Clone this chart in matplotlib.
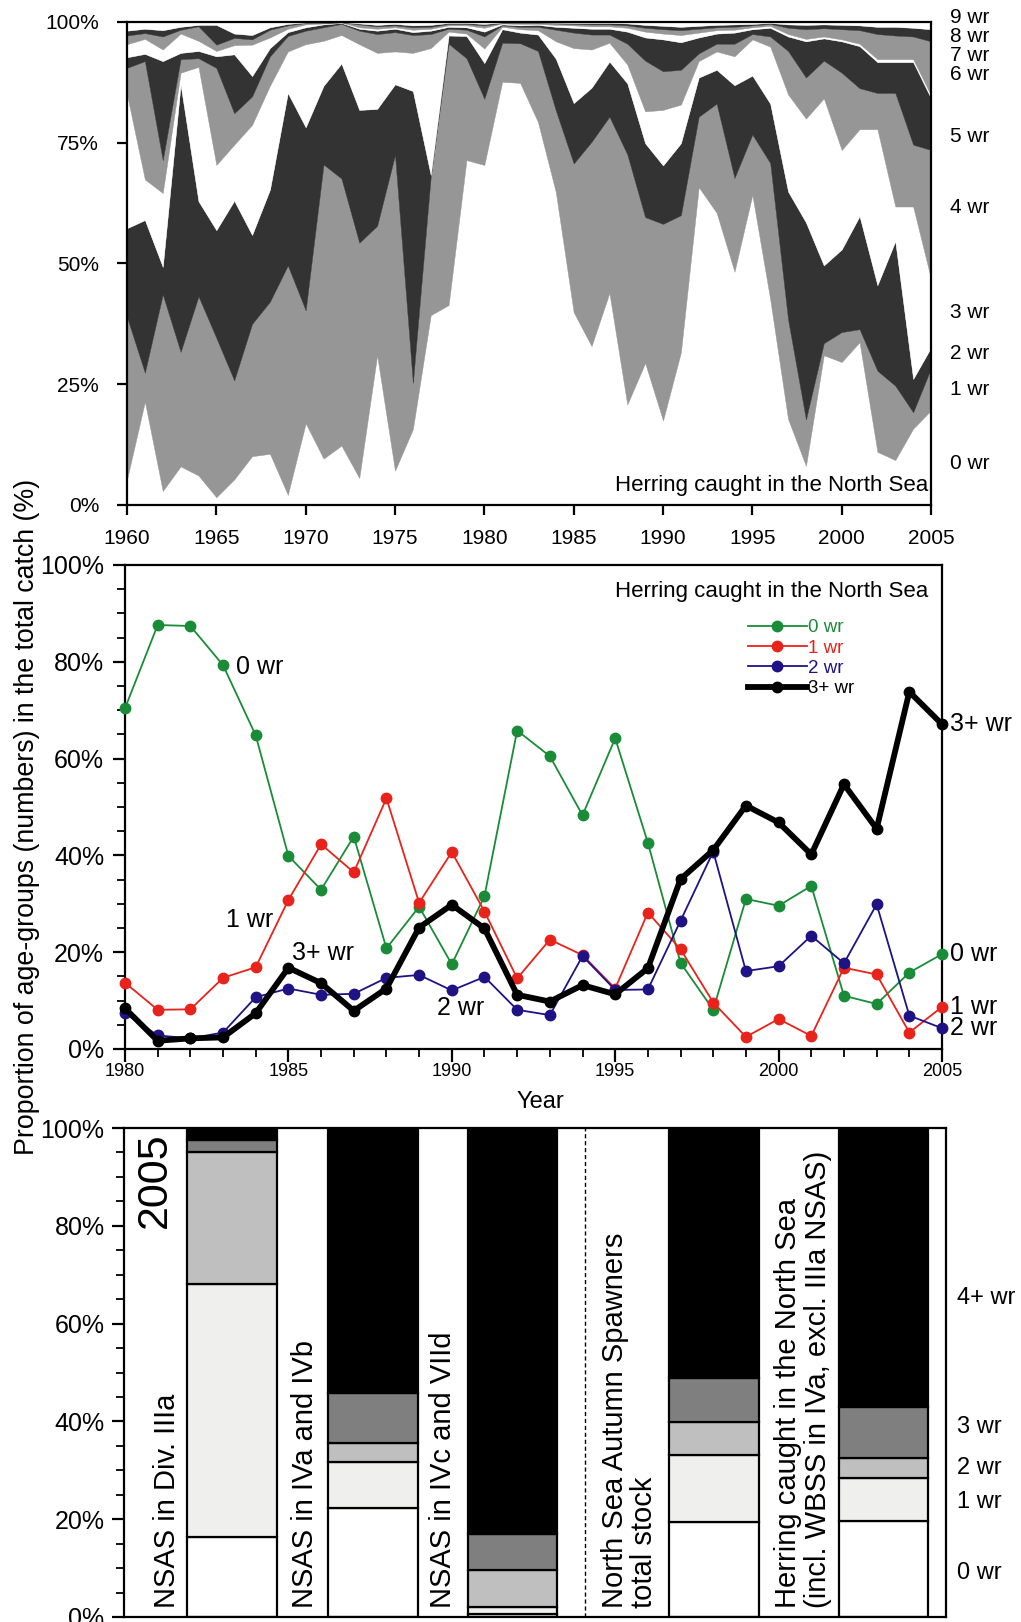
import numpy as np
import matplotlib
matplotlib.use("Agg")
import matplotlib.pyplot as plt
from matplotlib.lines import Line2D
from matplotlib.ticker import MultipleLocator

plt.rcParams['font.family'] = ['Liberation Sans', 'DejaVu Sans']

# ---------------- DATA ----------------
years_top = list(range(1960, 2006))
years_mid = list(range(1980, 2006))

# Middle panel: proportion (%) of age-groups in North Sea catch, 1980-2005
wr0 = [70.4, 87.6, 87.4, 79.3, 64.8, 39.9, 32.9, 43.9, 20.8, 29.4, 17.5, 31.6, 65.8,
       60.5, 48.3, 64.2, 42.6, 17.8, 8.1, 31.0, 29.6, 33.7, 11.0, 9.3, 15.8, 19.6]
wr1 = [13.7, 8.1, 8.2, 14.7, 16.9, 30.8, 42.3, 36.5, 51.8, 30.2, 40.7, 28.4, 14.6,
       22.6, 19.4, 12.5, 28.2, 20.6, 9.6, 2.5, 6.2, 2.7, 16.8, 15.4, 3.4, 8.7]
wr2 = [7.4, 2.8, 2.2, 3.4, 10.7, 12.5, 11.2, 11.4, 14.7, 15.3, 12.1, 14.9, 8.1,
       7.0, 19.2, 12.2, 12.3, 26.5, 40.8, 16.1, 17.1, 23.4, 17.7, 29.9, 6.9, 4.3]
wr3plus = [8.4, 1.7, 2.2, 2.4, 7.4, 16.8, 13.6, 7.9, 12.5, 25.1, 29.8, 24.9, 11.2,
           9.8, 13.2, 11.3, 16.7, 35.1, 41.1, 50.3, 46.8, 40.2, 54.7, 45.5, 73.8, 67.1]

# Top panel: 0, 1, 2 wr for 1960-1979 (1980-2005 taken from the series above)
wr0_early = [5.3, 21.4, 2.9, 8.0, 6.1, 1.6, 5.3, 10.1, 10.6, 2.1, 16.9, 9.6, 12.3,
             5.6, 31.0, 7.1, 15.7, 39.3, 41.4, 71.4]
wr1_early = [33.6, 6.0, 40.7, 23.7, 37.1, 33.0, 20.5, 27.4, 31.5, 47.5, 23.4, 60.9,
             55.3, 48.7, 26.8, 65.4, 9.6, 28.7, 54.1, 21.1]
wr2_early = [18.4, 31.6, 5.7, 55.3, 19.7, 22.3, 37.2, 18.4, 23.2, 35.7, 37.9, 16.3,
             23.8, 27.5, 24.2, 14.6, 60.4, 0.3, 1.7, 4.6]

# Top panel: cumulative upper edge (%) of the 3 wr ... 8 wr bands, 1960-2005
top3 = [85.0, 67.4, 64.6, 89.5, 90.7, 70.4, 74.6, 78.7, 86.8, 93.9, 95.4, 96.1, 97.3,
        95.4, 93.6, 93.9, 93.6, 94.6, 98.0, 97.6,
        94.5, 99.0, 98.5, 98.3, 96.0, 94.6, 94.3, 95.7, 91.2, 81.5, 81.8, 82.9, 91.9, 93.9,
        92.9, 96.4, 94.9, 85.0, 80.0, 84.2, 73.5, 77.8, 77.8, 61.8, 61.8, 46.8]
top4 = [90.5, 91.9, 71.4, 92.3, 92.5, 90.5, 81.1, 84.6, 92.9, 97.1, 98.2, 98.9, 99.6,
        98.2, 97.5, 97.9, 97.3, 97.5, 98.6, 98.4,
        97.0, 99.3, 99.0, 99.0, 98.4, 97.8, 97.4, 97.4, 95.5, 92.0, 89.8, 90.1, 93.5, 95.5,
        95.5, 97.5, 97.0, 94.0, 88.5, 92.0, 89.5, 86.3, 85.3, 85.3, 74.6, 73.5]
top5 = [92.7, 93.4, 91.9, 93.6, 94.0, 92.9, 93.3, 88.8, 94.6, 97.9, 98.9, 99.5, 99.8,
        98.6, 98.2, 98.6, 97.9, 98.2, 99.0, 98.9,
        98.0, 99.5, 99.3, 99.4, 99.0, 98.8, 98.6, 98.6, 98.0, 96.8, 96.4, 95.8, 96.8, 97.6,
        97.8, 98.5, 98.8, 97.0, 96.0, 96.6, 96.0, 95.0, 91.7, 91.7, 91.7, 84.2]
top6 = [95.4, 96.5, 94.3, 97.6, 96.1, 94.0, 95.2, 95.3, 96.8, 98.6, 99.5, 99.7, 99.9,
        98.9, 98.6, 98.9, 98.4, 98.6, 99.3, 99.3,
        98.8, 99.7, 99.6, 99.6, 99.4, 99.3, 99.1, 99.1, 98.8, 98.0, 97.6, 97.3, 97.8, 98.3,
        98.4, 98.9, 99.2, 97.5, 96.5, 97.0, 96.4, 95.5, 92.3, 92.3, 92.3, 84.8]
top7 = [97.2, 97.7, 97.0, 98.4, 99.1, 95.3, 96.7, 96.4, 98.4, 99.3, 99.8, 99.8, 99.95,
        99.5, 99.1, 99.3, 98.9, 99.0, 99.6, 99.6,
        99.3, 99.8, 99.8, 99.8, 99.7, 99.6, 99.5, 99.5, 99.3, 98.8, 98.5, 98.3, 98.6, 98.9,
        99.0, 99.3, 99.6, 98.8, 98.5, 98.7, 98.5, 98.3, 97.5, 97.2, 97.0, 96.0]
top8 = [98.2, 98.6, 98.3, 99.0, 99.4, 99.4, 97.6, 97.3, 98.9, 99.6, 99.9, 99.9, 100.0,
        99.7, 99.4, 99.6, 99.3, 99.4, 99.8, 99.8,
        99.6, 99.9, 99.9, 99.9, 99.85, 99.8, 99.8, 99.8, 99.7, 99.4, 99.2, 99.0, 99.2, 99.4,
        99.5, 99.6, 99.8, 99.5, 99.4, 99.5, 99.4, 99.3, 99.0, 99.0, 98.8, 98.5]
top_labels = ['0 wr', '1 wr', '2 wr', '3 wr', '4 wr', '5 wr', '6 wr', '7 wr', '8 wr', '9 wr']
top_label_pos = [8.6, 23.9, 31.4, 39.9, 61.6, 76.3, 89.2, 93.1, 97.0, 100.9]

# Bottom panel: 2005 age composition (%)
bar_names = ['NSAS in Div. IIIa', 'NSAS in IVa and IVb', 'NSAS in IVc and VIId',
             'North Sea Autumn Spawners\ntotal stock',
             'Herring caught in the North Sea\n(incl. WBSS in IVa, excl. IIIa NSAS)']
bar_ages = ['0 wr', '1 wr', '2 wr', '3 wr', '4+ wr']
bar_0wr = [16.4, 22.2, 0.7, 19.4, 19.6]
bar_1wr = [51.8, 9.5, 1.4, 13.8, 8.8]
bar_2wr = [26.9, 3.9, 7.6, 6.7, 4.2]
bar_3wr = [2.5, 10.2, 7.2, 9.0, 10.3]
bar_4pwr = [2.4, 54.2, 83.1, 51.1, 57.1]

# ---------------- FIGURE ----------------
W, H = 1021, 1622
fig = plt.figure(figsize=(W / 100, H / 100), dpi=100)


def rect(l, r, t, b):
    return [l / W, 1 - b / H, (r - l) / W, (b - t) / H]


def fp(x, y):
    return x / W, 1 - y / H


SPW = 1.6

# ---- Top panel ----
ax1 = fig.add_axes(rect(127, 931, 22, 505))
yrs = np.array(years_top)
p0 = np.array(wr0_early + wr0)
p1 = np.array(wr1_early + wr1)
p2 = np.array(wr2_early + wr2)
b0 = p0
b1 = b0 + p1
b2 = b1 + p2
bounds = [np.zeros_like(b0), b0, b1, b2]
prev = b2
for arr in [top3, top4, top5, top6, top7, top8]:
    cur = np.maximum(np.array(arr), prev)
    bounds.append(cur)
    prev = cur
bounds.append(np.full_like(b0, 100.0))
layer_cols = ['white', '#969696', '#333333'] * 3 + ['white']
for i in range(10):
    ax1.fill_between(yrs, bounds[i], bounds[i + 1], facecolor=layer_cols[i],
                     edgecolor=layer_cols[i], linewidth=0.3)
ax1.set_xlim(1960, 2005)
ax1.set_ylim(0, 100)
ax1.set_xticks(range(1960, 2006, 5))
ax1.set_yticks([0, 25, 50, 75, 100])
ax1.set_yticklabels(['0%', '25%', '50%', '75%', '100%'])
ax1.tick_params(axis='both', direction='out', length=7, width=SPW, labelsize=15)
ax1.tick_params(axis='y', pad=13)
ax1.tick_params(axis='x', pad=10)
for s in ax1.spines.values():
    s.set_linewidth(SPW)
ax1.text(0.996, 4.0, 'Herring caught in the North Sea', transform=ax1.get_yaxis_transform(),
         ha='right', va='center', fontsize=16)
for lab, pos in zip(top_labels, top_label_pos):
    ax1.text(1.0236, pos, lab, transform=ax1.get_yaxis_transform(), ha='left',
             va='center', fontsize=15, clip_on=False)

# ---- Middle panel ----
ax2 = fig.add_axes(rect(125, 942, 565, 1049))
c_green, c_red, c_blue = '#1a8c38', '#e8231c', '#1e1285'
series = [(wr0, c_green, 1.3, '0 wr'), (wr1, c_red, 1.3, '1 wr'),
          (wr2, c_blue, 1.3, '2 wr'), (wr3plus, 'black', 4.2, '3+ wr')]
for vals, col, lw, lab in series:
    ax2.plot(years_mid, vals, color=col, lw=lw, marker='o', ms=7.5,
             markeredgecolor=col, markerfacecolor=col, clip_on=False, zorder=3)
ax2.set_xlim(1980, 2005)
ax2.set_ylim(0, 100)
ax2.xaxis.set_major_locator(MultipleLocator(5))
ax2.xaxis.set_minor_locator(MultipleLocator(1))
ax2.yaxis.set_major_locator(MultipleLocator(20))
ax2.yaxis.set_minor_locator(MultipleLocator(5))
ax2.set_yticklabels([f'{int(v)}%' for v in ax2.get_yticks()])
ax2.tick_params(axis='both', which='major', direction='out', length=9, width=SPW)
ax2.tick_params(axis='both', which='minor', direction='out', length=6, width=1.3)
ax2.tick_params(axis='y', labelsize=18, pad=6)
ax2.tick_params(axis='x', labelsize=13, pad=1)
for s in ax2.spines.values():
    s.set_linewidth(SPW)
ax2.text(0.983, 0.946, 'Herring caught in the North Sea', transform=ax2.transAxes,
         ha='right', va='center', fontsize=16)
handles = [Line2D([], [], color=c, lw=lw, marker='o', ms=7.5) for _, c, lw, _ in series]
ax2.legend(handles, [s[3] for s in series], loc='upper left', bbox_to_anchor=(0.762, 0.888),
           frameon=False, fontsize=13.5, handlelength=3.15, handletextpad=0.05,
           labelspacing=0.17, borderpad=0, borderaxespad=0,
           labelcolor=[c_green, c_red, c_blue, 'black'])
ax2.text(1983.4, 78.9, '0 wr', fontsize=18, ha='left', va='center')
ax2.text(1983.1, 26.7, '1 wr', fontsize=18, ha='left', va='center')
ax2.text(1985.1, 19.8, '3+ wr', fontsize=18, ha='left', va='center')
ax2.text(1989.55, 8.5, '2 wr', fontsize=18, ha='left', va='center')
for vals, _, _, lab in series:
    ax2.text(2005.25, vals[-1], lab, fontsize=18, ha='left', va='center', clip_on=False)

fig.text(*fp(27, 817), 'Proportion of age-groups (numbers) in the total catch (%)',
         rotation=90, ha='center', va='center', fontsize=19.3)
fig.text(*fp(540, 1102), 'Year', ha='center', va='center', fontsize=17)

# ---- Bottom panel ----
ax3 = fig.add_axes(rect(124, 946, 1128, 1617))
bar_x = [1.19, 2.75, 4.29, 6.52, 8.39]
bar_cols = ['white', '#efefed', '#bfbfbf', '#7f7f7f', 'black']
bottom = np.zeros(5)
for vals, col in zip([bar_0wr, bar_1wr, bar_2wr, bar_3wr, bar_4pwr], bar_cols):
    ax3.bar(bar_x, vals, width=0.99, bottom=bottom, color=col, edgecolor='black',
            linewidth=1.6, zorder=2)
    bottom = bottom + np.array(vals)
ax3.set_xlim(0, 9.08)
ax3.set_ylim(0, 100)
ax3.set_xticks([])
ax3.yaxis.set_major_locator(MultipleLocator(20))
ax3.yaxis.set_minor_locator(MultipleLocator(5))
ax3.set_yticklabels([f'{int(v)}%' for v in ax3.get_yticks()])
ax3.tick_params(axis='y', which='major', direction='out', length=9, width=SPW,
                labelsize=18, pad=5)
ax3.tick_params(axis='y', which='minor', direction='out', length=6, width=1.3)
for s in ax3.spines.values():
    s.set_linewidth(SPW)
ax3.axvline(5.094, color='black', ls=(0, (3, 2)), lw=1.0)
ax3.text(0.343, 99.2, '2005', rotation=90, ha='center', va='top', fontsize=31)
label_x = [0.475, 2.0, 3.525, 5.58, 7.50]
for x, name in zip(label_x, bar_names):
    ax3.text(x, 1.8, name, rotation=90, ha='center', va='bottom', fontsize=21,
             multialignment='left', linespacing=1.05)
for lab, pos in zip(bar_ages[::-1], [65.2, 38.9, 30.5, 23.5, 9.0]):
    ax3.text(1.0134, pos, lab, transform=ax3.get_yaxis_transform(), ha='left',
             va='center', fontsize=17, clip_on=False)

fig.savefig('out.png', dpi=100)
